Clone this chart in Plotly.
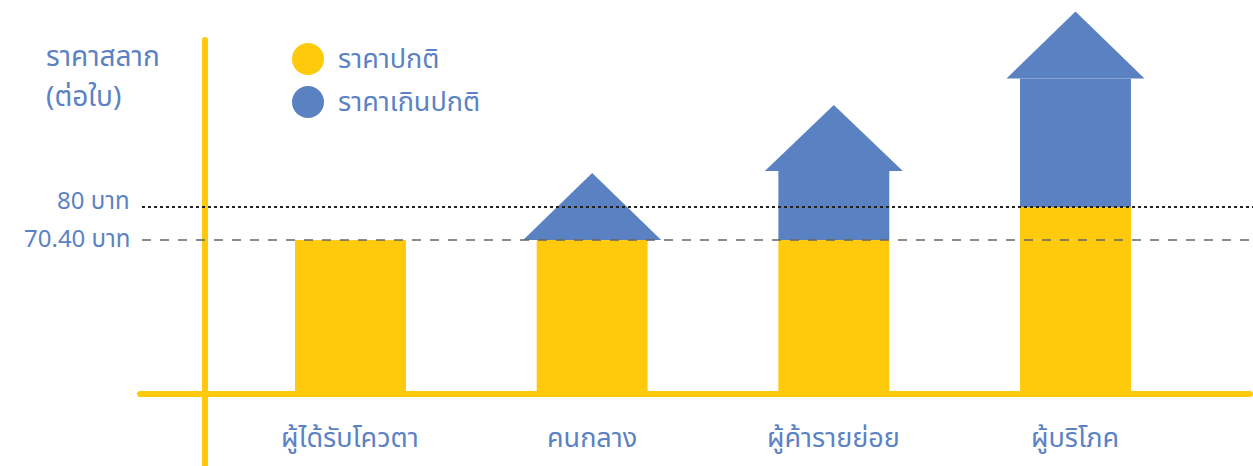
import plotly.graph_objects as go

# ---- data ----
categories = ["ผู้ได้รับโควตา", "คนกลาง", "ผู้ค้ารายย่อย", "ผู้บริโภค"]
normal_price = [70.4, 70.4, 70.4, 80.0]          # top of yellow bar (baht)
excess_shaft_top = [None, 70.4, 90.5, 117.4]     # top of blue shaft (illustrative)
excess_arrow_tip = [None, 89.9, 109.7, 136.9]    # tip of blue arrow head (illustrative)
ref_values = [80.0, 70.4]
ref_labels = ["80 บาท", "70.40 บาท"]
legend_labels = ["ราคาปกติ", "ราคาเกินปกติ"]
y_title = ["ราคาสลาก", "(ต่อใบ)"]

YELLOW = "#FFCA0B"
BLUE = "#5A82C2"
TEXT_BLUE = "#5B82C4"
FONT = "Noto Sans Thai, Noto Sans Thai UI, Noto Sans, sans-serif"

W, H = 1253, 466
BASE = 24.7        # bar floor (slightly under the axis line)
AXIS_Y = 25.6      # horizontal axis line level
BAR_W = 0.459
HEAD_W = 0.571
X_RANGE = [-1.4503, 3.7345]
Y_RANGE = [4.65, 140.22]

def px_x(p):
    return X_RANGE[0] + p / W * (X_RANGE[1] - X_RANGE[0])

def px_y(p):
    return Y_RANGE[1] - p / H * (Y_RANGE[1] - Y_RANGE[0])

xs = list(range(len(categories)))
fig = go.Figure()

# yellow bars (normal price)
fig.add_trace(go.Bar(x=xs, y=[v - BASE for v in normal_price], base=BASE,
                     width=BAR_W, marker=dict(color=YELLOW, line=dict(width=0)),
                     showlegend=False, hoverinfo="skip"))

# blue shafts
sx, sy, sb = [], [], []
for i, (n, t) in enumerate(zip(normal_price, excess_shaft_top)):
    if t is not None and t > n:
        sx.append(i); sb.append(n); sy.append(t - n)
fig.add_trace(go.Bar(x=sx, y=sy, base=sb, width=BAR_W,
                     marker=dict(color=BLUE, line=dict(width=0)),
                     showlegend=False, hoverinfo="skip"))

# blue arrow heads
for i, (t, tip) in enumerate(zip(excess_shaft_top, excess_arrow_tip)):
    if t is None:
        continue
    fig.add_trace(go.Scatter(x=[i - HEAD_W / 2, i + HEAD_W / 2, i, i - HEAD_W / 2],
                             y=[t, t, tip, t], mode="lines", fill="toself",
                             fillcolor=BLUE, line=dict(width=0, color=BLUE),
                             showlegend=False, hoverinfo="skip"))

fig.update_layout(barmode="overlay")

shapes = []
# yellow axis lines
shapes.append(dict(type="line", xref="x", yref="y", x0=px_x(140), x1=px_x(1250),
                   y0=AXIS_Y, y1=AXIS_Y, line=dict(color=YELLOW, width=6), layer="below"))
shapes.append(dict(type="line", xref="x", yref="y", x0=px_x(205), x1=px_x(205),
                   y0=px_y(40), y1=px_y(470), line=dict(color=YELLOW, width=6), layer="below"))
# rounded caps
for cx in (140, 1250):
    shapes.append(dict(type="circle", xref="x", yref="y",
                       x0=px_x(cx - 3), x1=px_x(cx + 3),
                       y0=AXIS_Y - 3 * (Y_RANGE[1] - Y_RANGE[0]) / H,
                       y1=AXIS_Y + 3 * (Y_RANGE[1] - Y_RANGE[0]) / H,
                       fillcolor=YELLOW, line=dict(width=0), layer="below"))
shapes.append(dict(type="circle", xref="x", yref="y", x0=px_x(202), x1=px_x(208),
                   y0=px_y(43), y1=px_y(37), fillcolor=YELLOW, line=dict(width=0),
                   layer="below"))
# reference lines
shapes.append(dict(type="line", xref="x", yref="y", x0=px_x(142), x1=X_RANGE[1],
                   y0=ref_values[0], y1=ref_values[0],
                   line=dict(color="#222222", width=2, dash="dot"), layer="above"))
shapes.append(dict(type="line", xref="x", yref="y", x0=px_x(142), x1=X_RANGE[1],
                   y0=ref_values[1], y1=ref_values[1],
                   line=dict(color="#666666", width=1.5, dash="dash"), layer="above"))
# legend circles
for k, c in enumerate([YELLOW, BLUE]):
    cy = 59 + 43 * k
    shapes.append(dict(type="circle", xref="x", yref="y",
                       x0=px_x(292), x1=px_x(324), y0=px_y(cy + 16), y1=px_y(cy - 16),
                       fillcolor=c, line=dict(width=0), layer="above"))

annotations = []
for k, (v, lab) in enumerate(zip(ref_values, ref_labels)):
    annotations.append(dict(x=px_x(131), y=v, xref="x", yref="y", text=lab,
                            showarrow=False, xanchor="right",
                            yanchor="bottom" if k == 0 else "top",
                            yshift=-14 if k == 0 else 19, borderpad=0,
                            font=dict(family=FONT, size=24, color=TEXT_BLUE)))
for k, lab in enumerate(legend_labels):
    annotations.append(dict(x=px_x(336), y=px_y(59 + 43 * k), xref="x", yref="y", text=lab,
                            showarrow=False, xanchor="left", yanchor="middle",
                            font=dict(family=FONT, size=27, color=TEXT_BLUE)))
for k, lab in enumerate(y_title):
    annotations.append(dict(x=px_x(44), y=px_y(57 + 40 * k), xref="x", yref="y", text=lab,
                            showarrow=False, xanchor="left", yanchor="middle",
                            font=dict(family=FONT, size=28, color=TEXT_BLUE)))
for i, lab in enumerate(categories):
    annotations.append(dict(x=i, y=px_y(438), xref="x", yref="y", text=lab,
                            showarrow=False, xanchor="center", yanchor="middle",
                            font=dict(family=FONT, size=27, color=TEXT_BLUE)))

fig.update_layout(
    width=W, height=H, margin=dict(l=0, r=0, t=0, b=0),
    paper_bgcolor="white", plot_bgcolor="white",
    xaxis=dict(range=X_RANGE, visible=False, fixedrange=True),
    yaxis=dict(range=Y_RANGE, visible=False, fixedrange=True),
    shapes=shapes, annotations=annotations, showlegend=False,
)

fig.write_html("out.html", config={"displayModeBar": False},
               post_script="document.body.style.margin='0';")
